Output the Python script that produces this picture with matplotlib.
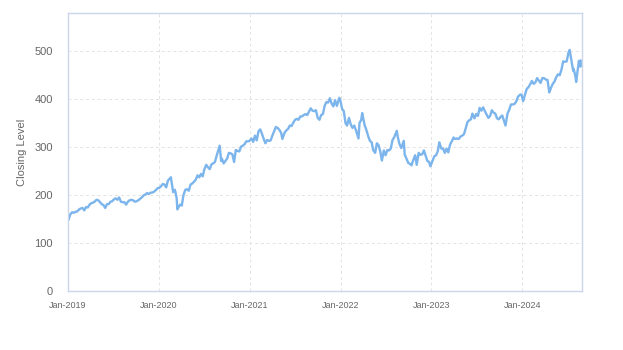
import matplotlib
matplotlib.use("Agg")
import matplotlib.pyplot as plt
import matplotlib.dates as mdates
import pandas as pd

# weekly-ish closing levels
dates = [
    "2019-01-02", "2019-01-03", "2019-01-11", "2019-01-18", "2019-01-25",
    "2019-02-01", "2019-02-08", "2019-02-15", "2019-02-22", "2019-03-01",
    "2019-03-08", "2019-03-15", "2019-03-22", "2019-03-29", "2019-04-05",
    "2019-04-12", "2019-04-18", "2019-04-26", "2019-05-03", "2019-05-10",
    "2019-05-17", "2019-05-24", "2019-05-31", "2019-06-07", "2019-06-14",
    "2019-06-21", "2019-06-28", "2019-07-05", "2019-07-12", "2019-07-19",
    "2019-07-26", "2019-08-02", "2019-08-09", "2019-08-16", "2019-08-23",
    "2019-08-30", "2019-09-06", "2019-09-13", "2019-09-20", "2019-09-27",
    "2019-10-04", "2019-10-11", "2019-10-18", "2019-10-25", "2019-11-01",
    "2019-11-08", "2019-11-15", "2019-11-22", "2019-11-29", "2019-12-06",
    "2019-12-13", "2019-12-20", "2019-12-27",
    "2020-01-03", "2020-01-10", "2020-01-17", "2020-01-24", "2020-01-31",
    "2020-02-07", "2020-02-14", "2020-02-19", "2020-02-28", "2020-03-06",
    "2020-03-13", "2020-03-16", "2020-03-20", "2020-03-27", "2020-04-03",
    "2020-04-09", "2020-04-17", "2020-04-24", "2020-05-01", "2020-05-08",
    "2020-05-15", "2020-05-22", "2020-05-29", "2020-06-05", "2020-06-12",
    "2020-06-19", "2020-06-26", "2020-07-02", "2020-07-10", "2020-07-17",
    "2020-07-24", "2020-07-31", "2020-08-07", "2020-08-14", "2020-08-21",
    "2020-08-28", "2020-09-02", "2020-09-08", "2020-09-11", "2020-09-18",
    "2020-09-25", "2020-10-02", "2020-10-09", "2020-10-16", "2020-10-23",
    "2020-10-30", "2020-11-06", "2020-11-13", "2020-11-20", "2020-11-27",
    "2020-12-04", "2020-12-11", "2020-12-18", "2020-12-24", "2020-12-31",
    "2021-01-08", "2021-01-15", "2021-01-22", "2021-01-29", "2021-02-05",
    "2021-02-12", "2021-02-19", "2021-02-26", "2021-03-05", "2021-03-12",
    "2021-03-19", "2021-03-26", "2021-04-01", "2021-04-09", "2021-04-16",
    "2021-04-23", "2021-04-30", "2021-05-07", "2021-05-12", "2021-05-21",
    "2021-05-28", "2021-06-04", "2021-06-11", "2021-06-18", "2021-06-25",
    "2021-07-02", "2021-07-09", "2021-07-16", "2021-07-23", "2021-07-30",
    "2021-08-06", "2021-08-13", "2021-08-20", "2021-08-27", "2021-09-03",
    "2021-09-10", "2021-09-17", "2021-09-24", "2021-10-01", "2021-10-08",
    "2021-10-15", "2021-10-22", "2021-10-29", "2021-11-05", "2021-11-12",
    "2021-11-19", "2021-11-26", "2021-12-03", "2021-12-10", "2021-12-17",
    "2021-12-27", "2021-12-31",
    "2022-01-07", "2022-01-14", "2022-01-21", "2022-01-27", "2022-02-04",
    "2022-02-11", "2022-02-18", "2022-02-25", "2022-03-04", "2022-03-14",
    "2022-03-18", "2022-03-25", "2022-03-29", "2022-04-08", "2022-04-14",
    "2022-04-22", "2022-04-29", "2022-05-06", "2022-05-12", "2022-05-20",
    "2022-05-27", "2022-06-03", "2022-06-10", "2022-06-16", "2022-06-24",
    "2022-07-01", "2022-07-08", "2022-07-15", "2022-07-22", "2022-07-29",
    "2022-08-05", "2022-08-15", "2022-08-19", "2022-08-26", "2022-09-02",
    "2022-09-12", "2022-09-16", "2022-09-23", "2022-09-30", "2022-10-07",
    "2022-10-13", "2022-10-21", "2022-10-28", "2022-11-03", "2022-11-11",
    "2022-11-18", "2022-11-25", "2022-12-02", "2022-12-09", "2022-12-16",
    "2022-12-23", "2022-12-28",
    "2023-01-06", "2023-01-13", "2023-01-20", "2023-01-27", "2023-02-02",
    "2023-02-10", "2023-02-17", "2023-02-24", "2023-03-03", "2023-03-10",
    "2023-03-17", "2023-03-24", "2023-03-31", "2023-04-06", "2023-04-14",
    "2023-04-21", "2023-04-28", "2023-05-05", "2023-05-12", "2023-05-19",
    "2023-05-26", "2023-06-02", "2023-06-09", "2023-06-15", "2023-06-23",
    "2023-06-30", "2023-07-07", "2023-07-14", "2023-07-21", "2023-07-28",
    "2023-08-04", "2023-08-11", "2023-08-18", "2023-08-25", "2023-09-01",
    "2023-09-08", "2023-09-15", "2023-09-22", "2023-09-29", "2023-10-06",
    "2023-10-13", "2023-10-20", "2023-10-26", "2023-11-03", "2023-11-10",
    "2023-11-17", "2023-11-24", "2023-12-01", "2023-12-08", "2023-12-15",
    "2023-12-22", "2023-12-29",
    "2024-01-05", "2024-01-12", "2024-01-19", "2024-01-26", "2024-02-02",
    "2024-02-09", "2024-02-16", "2024-02-23", "2024-03-01", "2024-03-08",
    "2024-03-15", "2024-03-22", "2024-03-28", "2024-04-05", "2024-04-12",
    "2024-04-19", "2024-04-26", "2024-05-03", "2024-05-10", "2024-05-17",
    "2024-05-24", "2024-05-31", "2024-06-07", "2024-06-14", "2024-06-21",
    "2024-06-28", "2024-07-05", "2024-07-10", "2024-07-12", "2024-07-19",
    "2024-07-24", "2024-07-26", "2024-08-02", "2024-08-05", "2024-08-09",
    "2024-08-16", "2024-08-22", "2024-08-23", "2024-08-28",
]

closing = [
    150, 148, 160, 164, 163,
    165, 166, 170, 172, 173,
    168, 175, 174, 180, 183,
    184, 186, 190, 189, 185,
    181, 179, 173, 181, 181,
    186, 187, 191, 193, 190,
    195, 186, 185, 185, 180,
    186, 189, 190, 189, 186,
    187, 189, 192, 195, 199,
    201, 204, 202, 205, 205,
    207, 210, 214,
    215, 218, 223, 222, 216,
    230, 234, 237, 206, 211,
    194, 170, 174, 180, 178,
    199, 211, 212, 209, 222,
    224, 228, 232, 241, 237,
    244, 239, 253, 263, 258,
    254, 264, 266, 269, 282,
    294, 303, 271, 276, 266,
    271, 276, 288, 287, 285,
    269, 294, 292, 291, 301,
    303, 306, 312, 312, 313,
    318, 311, 324, 314, 333,
    337, 328, 317, 308, 315,
    313, 314, 323, 333, 342,
    340, 336, 330, 317, 330,
    335, 338, 345, 344, 351,
    357, 359, 357, 364, 364,
    367, 369, 367, 374, 381,
    376, 375, 377, 361, 357,
    367, 369, 386, 394, 393,
    402, 391, 385, 398, 386,
    403, 398,
    380, 375, 350, 345, 361,
    347, 340, 345, 335, 318,
    350, 357, 371, 345, 337,
    323, 313, 310, 294, 288,
    308, 304, 290, 272, 293,
    283, 294, 293, 297, 315,
    321, 334, 321, 306, 298,
    313, 284, 276, 267, 265,
    262, 274, 283, 263, 288,
    284, 285, 293, 282, 271,
    269, 260,
    272, 281, 283, 292, 310,
    297, 297, 288, 297, 289,
    305, 312, 320, 317, 318,
    317, 322, 324, 327, 339,
    352, 356, 358, 370, 360,
    369, 365, 382, 376, 383,
    375, 368, 361, 365, 377,
    372, 370, 360, 358, 363,
    366, 355, 345, 370, 378,
    389, 389, 390, 395, 405,
    409, 410,
    396, 409, 421, 425, 431,
    438, 432, 435, 444, 439,
    434, 444, 444, 441, 440,
    414, 424, 432, 437, 446,
    452, 450, 462, 479, 478,
    479, 497, 503, 496, 475,
    459, 463, 448, 436, 452,
    480, 468, 481, 470,
]

y_ticks = [0, 100, 200, 300, 400, 500]

LINE = "#7cb5ec"
AXIS = "#ccd6eb"
GRID = "#e3e3e3"
TEXT = "#666666"

plt.rcParams["font.family"] = ["Liberation Sans", "DejaVu Sans"]

x = pd.to_datetime(dates)

fig = plt.figure(figsize=(6.23, 3.5), dpi=100)
ax = fig.add_axes([0.109, 0.169, 0.825, 0.794])
ax.plot(x, closing, color=LINE, linewidth=1.7, solid_joinstyle="round")

ax.set_xlim(pd.Timestamp("2019-01-01"), x[-1])
ax.set_ylim(0, 580)
ax.set_yticks(y_ticks)
ax.xaxis.set_major_locator(mdates.YearLocator())
ax.xaxis.set_major_formatter(mdates.DateFormatter("%b-%Y"))

ax.grid(True, color=GRID, linestyle=(0, (3, 3)), linewidth=0.7)
ax.set_axisbelow(True)
for side in ax.spines.values():
    side.set_color(AXIS)
    side.set_linewidth(1)

ax.tick_params(axis="y", length=0, labelsize=8, colors=TEXT, pad=11)
ax.tick_params(axis="x", length=0, labelsize=6.5, labelcolor=TEXT, pad=7)
ax.set_ylabel("Closing Level", color=TEXT, fontsize=8, labelpad=5)

fig.savefig("out.png", dpi=100)
